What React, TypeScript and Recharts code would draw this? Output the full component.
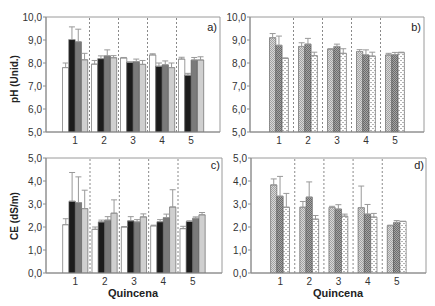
import React from "react";
import {
  BarChart,
  Bar,
  XAxis,
  YAxis,
  ErrorBar,
  ReferenceLine,
  ReferenceArea,
} from "recharts";

const quincenas = [1, 2, 3, 4, 5];
const dividers = [1.5, 2.5, 3.5, 4.5];

// a) pH, tratamientos 1-4
const phA1 = [7.8, 7.95, 8.22, 8.35, 8.17];
const phA1Err = [0.2, 0.16, 0.02, 0.05, 0.08];
const phA2 = [9.02, 8.19, 8.03, 7.86, 7.47];
const phA2Err = [0.55, 0.12, 0.02, 0.14, 0.08];
const phA3 = [8.92, 8.31, 8.06, 7.92, 8.13];
const phA3Err = [0.55, 0.26, 0.11, 0.17, 0.11];
const phA4 = [8.14, 8.23, 7.94, 7.8, 8.13];
const phA4Err = [0.28, 0.09, 0.17, 0.2, 0.14];

// b) pH, tratamientos 5-7
const phB1 = [9.1, 8.72, 8.6, 8.5, 8.35];
const phB1Err = [0.18, 0.16, 0.02, 0.08, 0.07];
const phB2 = [8.77, 8.82, 8.72, 8.35, 8.36];
const phB2Err = [0.4, 0.25, 0.1, 0.22, 0.1];
const phB3 = [8.2, 8.32, 8.42, 8.3, 8.45];
const phB3Err = [0.02, 0.15, 0.2, 0.17, 0.02];

// c) CE, tratamientos 1-4
const ceC1 = [2.1, 1.9, 2.0, 2.05, 1.93];
const ceC1Err = [0.26, 0.1, 0.02, 0.03, 0.1];
const ceC2 = [3.12, 2.22, 2.27, 2.23, 2.24];
const ceC2Err = [1.25, 0.08, 0.18, 0.09, 0.03];
const ceC3 = [3.06, 2.3, 2.22, 2.41, 2.38];
const ceC3Err = [1.12, 0.15, 0.1, 0.15, 0.06];
const ceC4 = [2.8, 2.6, 2.44, 2.87, 2.53];
const ceC4Err = [0.8, 0.58, 0.13, 0.75, 0.1];

// d) CE, tratamientos 5-7
const ceD1 = [3.83, 2.86, 2.85, 2.84, 2.06];
const ceD1Err = [0.26, 0.25, 0.05, 0.94, 0.02];
const ceD2 = [3.34, 3.3, 2.78, 2.56, 2.2];
const ceD2Err = [0.86, 0.66, 0.19, 0.42, 0.08];
const ceD3 = [2.86, 2.34, 2.47, 2.43, 2.24];
const ceD3Err = [0.6, 0.16, 0.09, 0.16, 0.01];

const phTicks = [5, 6, 7, 8, 9, 10];
const ceTicks = [0, 1, 2, 3, 4, 5];

const FONT = "'Liberation Sans', Arial, sans-serif";

type Series = { key: string; values: number[]; errors: number[]; fill: string };

const buildRows = (series: Series[]) =>
  quincenas.map((q, i) => {
    const row: Record<string, any> = { q };
    series.forEach((s) => {
      row[s.key] = s.values[i];
      row[s.key + "Err"] = [0, s.errors[i]];
    });
    return row;
  });

const fmt = (v: number) => v.toFixed(1).replace(".", ",");

const Patterns = ({ id }: { id: string }) => (
  <defs>
    <pattern id={`${id}-light`} width={2} height={2} patternUnits="userSpaceOnUse">
      <rect width={2} height={2} fill="#d8d8d8" />
      <rect width={1} height={1} fill="#a2a2a2" />
      <rect x={1} y={1} width={1} height={1} fill="#a2a2a2" />
    </pattern>
    <pattern id={`${id}-dark`} width={2} height={2} patternUnits="userSpaceOnUse">
      <rect width={2} height={2} fill="#a4a4a4" />
      <rect width={1} height={1} fill="#6c6c6c" />
      <rect x={1} y={1} width={1} height={1} fill="#6c6c6c" />
    </pattern>
    <pattern id={`${id}-dots`} width={4} height={4} patternUnits="userSpaceOnUse">
      <rect width={4} height={4} fill="#ffffff" />
      <rect x={0} y={0} width={2} height={1} fill="#b4b4b4" />
      <rect x={2} y={2} width={2} height={1} fill="#b4b4b4" />
    </pattern>
  </defs>
);

interface PanelProps {
  left: number;
  top: number;
  width: number;
  series: Series[];
  yDomain: [number, number];
  yTicks: number[];
  patternId?: string;
}

const Panel: React.FC<PanelProps> = ({ left, top, width, series, yDomain, yTicks, patternId }) => {
  const rows = buildRows(series);
  return (
    <div style={{ position: "absolute", left, top }}>
      <BarChart
        width={width}
        height={147}
        data={rows}
        margin={{ top: 17, right: 10, left: 0, bottom: 0 }}
        barGap={0}
      >
        {patternId && <Patterns id={patternId} />}
        <XAxis
          dataKey="q"
          type="number"
          domain={[0, 6]}
          ticks={quincenas}
          allowDataOverflow
          tickLine={false}
          tickSize={3}
          tickMargin={2}
          height={15}
          axisLine={{ stroke: "#8c8c8c" }}
          tick={{ fontSize: 10, fill: "#333", fontFamily: FONT }}
        />
        <YAxis
          type="number"
          domain={yDomain}
          ticks={yTicks}
          allowDataOverflow
          width={46}
          tickSize={3}
          tickMargin={1}
          tickFormatter={fmt}
          axisLine={{ stroke: "#8c8c8c" }}
          tickLine={{ stroke: "#8c8c8c" }}
          tick={{ fontSize: 10, fill: "#333", fontFamily: FONT }}
        />
        <ReferenceArea
          x1={0}
          x2={6}
          y1={yDomain[0]}
          y2={yDomain[1]}
          fill="none"
          fillOpacity={0}
          stroke="#9a9a9a"
          strokeWidth={1}
        />
        {dividers.map((d) => (
          <ReferenceLine key={d} x={d} stroke="#8a8a8a" strokeDasharray="2 2" />
        ))}
        {series.map((s) => (
          <Bar
            key={s.key}
            dataKey={s.key}
            fill={s.fill}
            stroke="#555"
            strokeWidth={0.6}
            barSize={6.3}
            isAnimationActive={false}
          >
            <ErrorBar dataKey={s.key + "Err"} direction="y" width={3} stroke="#999" strokeWidth={1} />
          </Bar>
        ))}
      </BarChart>
    </div>
  );
};

const tagStyle: React.CSSProperties = {
  position: "absolute",
  fontSize: 11,
  fontFamily: FONT,
  color: "#222",
  transform: "translate(-100%, -50%)",
  lineHeight: 1,
};

const rotStyle: React.CSSProperties = {
  position: "absolute",
  fontSize: 10,
  fontWeight: "bold",
  fontFamily: FONT,
  color: "#222",
  whiteSpace: "nowrap",
  lineHeight: 1,
  transform: "translate(-50%, -50%) rotate(-90deg)",
};

const xTitleStyle: React.CSSProperties = {
  position: "absolute",
  fontSize: 11,
  fontWeight: "bold",
  fontFamily: FONT,
  color: "#222",
  whiteSpace: "nowrap",
  lineHeight: 1,
  transform: "translate(-50%, -50%)",
};

export default function App() {
  const seriesA: Series[] = [
    { key: "t1", values: phA1, errors: phA1Err, fill: "#ffffff" },
    { key: "t2", values: phA2, errors: phA2Err, fill: "#1c1c1c" },
    { key: "t3", values: phA3, errors: phA3Err, fill: "#7a7a7a" },
    { key: "t4", values: phA4, errors: phA4Err, fill: "#cfcfcf" },
  ];
  const seriesB: Series[] = [
    { key: "t5", values: phB1, errors: phB1Err, fill: "url(#pb-light)" },
    { key: "t6", values: phB2, errors: phB2Err, fill: "url(#pb-dark)" },
    { key: "t7", values: phB3, errors: phB3Err, fill: "url(#pb-dots)" },
  ];
  const seriesC: Series[] = [
    { key: "t1", values: ceC1, errors: ceC1Err, fill: "#ffffff" },
    { key: "t2", values: ceC2, errors: ceC2Err, fill: "#1c1c1c" },
    { key: "t3", values: ceC3, errors: ceC3Err, fill: "#7a7a7a" },
    { key: "t4", values: ceC4, errors: ceC4Err, fill: "#cfcfcf" },
  ];
  const seriesD: Series[] = [
    { key: "t5", values: ceD1, errors: ceD1Err, fill: "url(#pd-light)" },
    { key: "t6", values: ceD2, errors: ceD2Err, fill: "url(#pd-dark)" },
    { key: "t7", values: ceD3, errors: ceD3Err, fill: "url(#pd-dots)" },
  ];

  return (
    <div
      style={{
        position: "absolute",
        left: 0,
        top: 0,
        width: 435,
        height: 306,
        background: "#fff",
        overflow: "hidden",
      }}
    >
      <Panel left={0} top={0} width={230} series={seriesA} yDomain={[5, 10]} yTicks={phTicks} />
      <Panel left={204} top={0} width={230} series={seriesB} yDomain={[5, 10]} yTicks={phTicks} patternId="pb" />
      <Panel left={0} top={141} width={232} series={seriesC} yDomain={[0, 5]} yTicks={ceTicks} />
      <Panel left={205} top={141} width={231} series={seriesD} yDomain={[0, 5]} yTicks={ceTicks} patternId="pd" />

      <div style={{ ...rotStyle, left: 15, top: 79 }}>pH (Unid.)</div>
      <div style={{ ...rotStyle, left: 15, top: 216 }}>CE (dS/m)</div>
      <div style={{ ...xTitleStyle, left: 133, top: 293 }}>Quincena</div>
      <div style={{ ...xTitleStyle, left: 338, top: 293 }}>Quincena</div>

      <div style={{ ...tagStyle, left: 217, top: 27 }}>a)</div>
      <div style={{ ...tagStyle, left: 421, top: 27 }}>b)</div>
      <div style={{ ...tagStyle, left: 220, top: 165 }}>c)</div>
      <div style={{ ...tagStyle, left: 424, top: 165 }}>d)</div>
    </div>
  );
}
